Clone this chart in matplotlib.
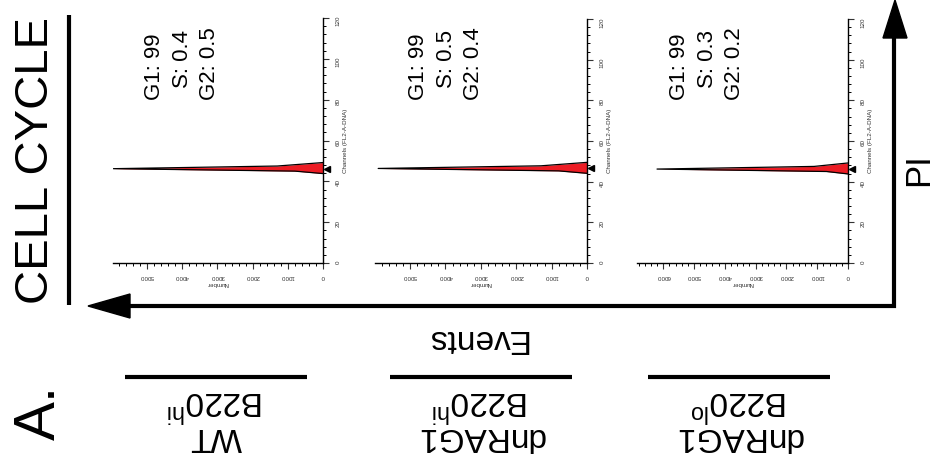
import numpy as np
import matplotlib.pyplot as plt
from matplotlib.patches import Polygon
from matplotlib.ticker import MultipleLocator
from matplotlib.transforms import ScaledTranslation

plt.rcParams['font.family'] = ['Liberation Sans', 'DejaVu Sans']

W, H = 937, 462

# cell cycle percentages per sample
samples = ['WT', 'dnRAG1', 'dnRAG1']
b220 = ['hi', 'hi', 'lo']
g1 = [99, 99, 99]
s_phase = [0.4, 0.5, 0.3]
g2 = [0.5, 0.4, 0.2]

# DNA histogram (channels vs number of events)
channels = np.array([43.8, 45.0, 46.2, 47.5, 49.2])
counts1 = np.array([0, 800, 5960, 1300, 0])
counts2 = np.array([0, 800, 5900, 1300, 0])
counts3 = np.array([0, 700, 6200, 1100, 0])
peaks = [46.2, 46.5, 46.2]
number_max = [5970, 5990, 6850]
number_ticks = [[0, 1000, 2000, 3000, 4000, 5000],
                [0, 1000, 2000, 3000, 4000, 5000],
                [0, 1000, 2000, 3000, 4000, 5000, 6000]]

# panel boxes in pixels: left, right, top, bottom
boxes = [(113, 323, 18, 263), (375, 587, 19, 263), (637, 848, 19, 263)]

fig = plt.figure(figsize=(W / 100, H / 100), dpi=100)
ov = fig.add_axes([0, 0, 1, 1])
ov.set_xlim(0, W)
ov.set_ylim(H, 0)
ov.axis('off')

red = '#ec1c24'
for i, counts in enumerate([counts1, counts2, counts3]):
    l, r, t, b = boxes[i]
    ax = fig.add_axes([l / W, 1 - b / H, (r - l) / W, (b - t) / H])
    ax.patch.set_alpha(0)
    ch = channels - channels[2] + peaks[i]
    ax.fill_betweenx(ch, 0, counts, color=red, lw=0)
    ax.plot(counts, ch, color='black', lw=0.9)
    ax.plot([0], [peaks[i]], marker='<', color='black', ms=4, clip_on=False,
            transform=ax.transData + ScaledTranslation(4 / 100, 0, fig.dpi_scale_trans))
    ax.set_xlim(number_max[i], 0)
    ax.set_ylim(0, 120)
    ax.yaxis.tick_right()
    ax.yaxis.set_label_position('right')
    for sp in ['left', 'top']:
        ax.spines[sp].set_visible(False)
    for sp in ['right', 'bottom']:
        ax.spines[sp].set_linewidth(1.0)
    ax.set_xticks(number_ticks[i])
    ax.xaxis.set_minor_locator(MultipleLocator(200))
    ax.set_yticks(np.arange(0, 121, 20))
    ax.yaxis.set_minor_locator(MultipleLocator(4))
    ax.tick_params(which='major', length=4, width=0.8, labelsize=4.5, colors='#333333')
    ax.tick_params(which='minor', length=2.5, width=0.7)
    ax.tick_params(axis='x', labelrotation=180, pad=4)
    ax.tick_params(axis='y', labelrotation=90, pad=5)
    ax.set_xlabel('Number', fontsize=4.5, rotation=180, labelpad=1, color='#333333')
    ax.set_ylabel('Channels (FL2-A-DNA)', fontsize=4.5, rotation=90, labelpad=2, color='#333333')

    # percentages, rotated with the figure
    xs = [r - 168, r - 140, r - 113]
    starts = [100, 88, 100]
    lines = ['G1: %d' % g1[i], 'S: %.1f' % s_phase[i], 'G2: %.1f' % g2[i]]
    for x, y0, txt in zip(xs, starts, lines):
        ov.text(x, y0, txt, rotation=90, rotation_mode='anchor', ha='left', va='center', fontsize=16)

# group labels below
groups = [(125, 307), (390, 572), (648, 830)]
for (x0, x1), name, lvl in zip(groups, samples, b220):
    ov.plot([x0, x1], [377, 377], color='black', lw=3, solid_capstyle='butt')
    xc = (x0 + x1) / 2
    ov.text(xc, 402, r'B220$^{\mathregular{%s}}$' % lvl, rotation=180, ha='center', va='center', fontsize=24)
    ov.text(xc, 437, name, rotation=180, ha='center', va='center', fontsize=24)

# axis arrows
lw_ax = 3
ov.plot([894, 894, 130], [38, 306, 306], color='black', lw=lw_ax, solid_joinstyle='miter')
ov.add_patch(Polygon([[883, 38], [907, 38], [895, 0]], closed=True, color='black'))
ov.add_patch(Polygon([[130, 294], [130, 318], [88, 306]], closed=True, color='black'))
ov.text(476, 338, 'Events', rotation=180, ha='center', va='center', fontsize=24)
ov.text(919, 170, 'PI', rotation=90, ha='center', va='center', fontsize=25)

# title block at left
ov.plot([69, 69], [15, 305], color='black', lw=3, solid_capstyle='butt')
ov.text(36, 160, 'CELL CYCLE', rotation=90, ha='center', va='center', fontsize=34)
ov.text(40, 412, 'A.', rotation=90, ha='center', va='center', fontsize=42)

fig.savefig('out.png', dpi=100)
